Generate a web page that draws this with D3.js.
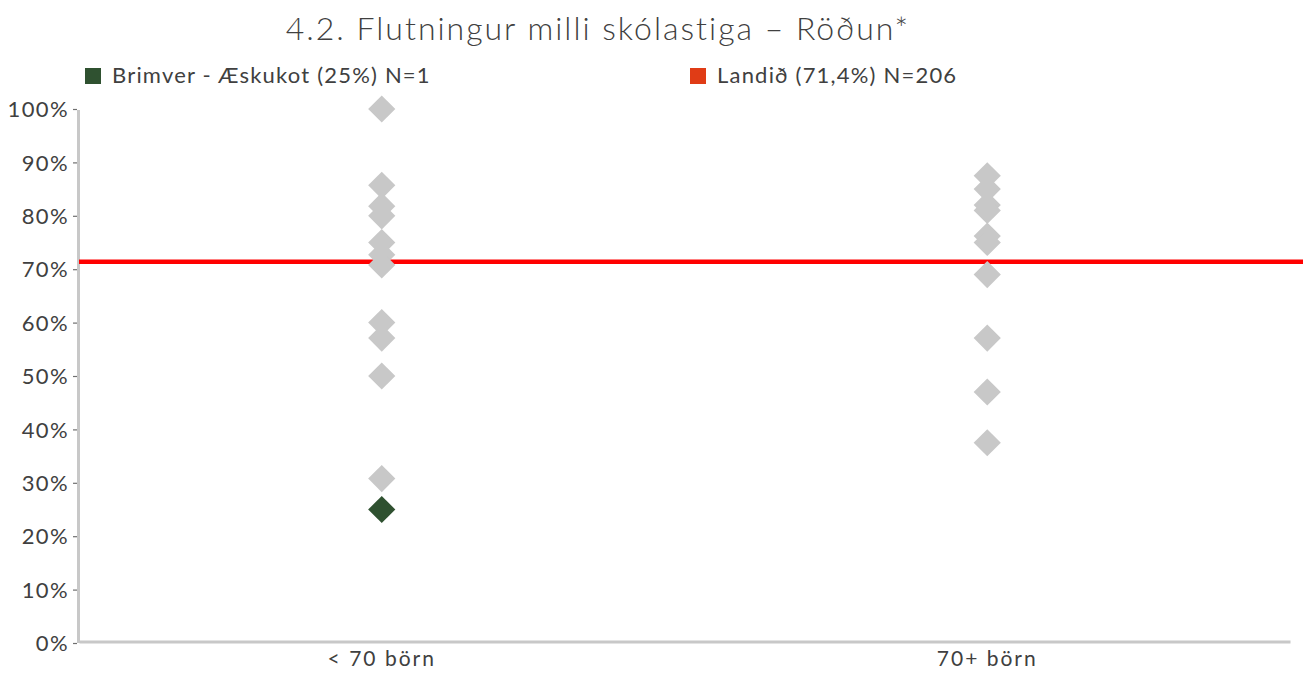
<!DOCTYPE html>
<html>
<head>
<meta charset="utf-8">
<script src="https://cdn.jsdelivr.net/npm/d3@7/dist/d3.min.js"></script>
<style>
  html, body { margin: 0; padding: 0; background: #fff; }
  svg { display: block; font-family: Lato, "Open Sans", sans-serif; }
</style>
</head>
<body>
<svg id="chart" width="1303" height="673"></svg>
<script>
// Group categories (x axis)
const categories = ["< 70 börn", "70+ börn"];

// Other schools, share in percent, per group
const otherSmall = [100, 85.7, 81.8, 80, 75, 72.7, 70.8, 60, 57.1, 50, 30.8];
const otherLarge = [87.5, 85, 82, 81, 76.2, 75, 69, 57.1, 47, 37.5];

// Highlighted school
const highlightName = "Brimver - Æskukot (25%) N=1";
const highlightCategory = "< 70 börn";
const highlightValue = 25;

// National average
const nationalName = "Landið (71,4%) N=206";
const nationalValue = 71.4;

// Y axis ticks
const yTicks = [0, 10, 20, 30, 40, 50, 60, 70, 80, 90, 100];

const title = "4.2. Flutningur milli skólastiga – Röðun*";

(function draw() {
  const svg = d3.select("#chart");
  const W = 1303;
  const mLeft = 79, mRight = 1290, mTop = 109, mBottom = 643;

  const x = d3.scaleBand().domain(categories).range([mLeft, mRight]);
  const y = d3.scaleLinear().domain([0, 100]).range([mBottom, mTop]);

  const textColor = "#404040";
  const axisColor = "#c8c8c8";

  // Title
  svg.append("text")
    .attr("x", 598).attr("y", 40)
    .attr("text-anchor", "middle")
    .attr("font-size", 32)
    .attr("font-weight", 300)
    .attr("letter-spacing", 2)
    .attr("fill", textColor)
    .text(title);

  // Legend
  const legend = [
    { name: highlightName, color: "#2f5130", x: 85 },
    { name: nationalName, color: "#e03c16", x: 690 }
  ];
  const lg = svg.append("g").selectAll("g").data(legend).join("g")
    .attr("transform", d => `translate(${d.x},68)`);
  lg.append("rect").attr("width", 16).attr("height", 16).attr("fill", d => d.color);
  lg.append("text").attr("x", 27).attr("y", 15)
    .attr("font-size", 22).attr("font-weight", 400)
    .attr("letter-spacing", 1.2)
    .attr("fill", textColor).text(d => d.name);

  // Y axis
  const yAxis = d3.axisLeft(y).tickValues(yTicks)
    .tickFormat(d => d + "%").tickSize(4).tickPadding(4);
  const yg = svg.append("g").attr("transform", `translate(${mLeft - 2},0)`).call(yAxis);
  yg.select(".domain").remove();
  yg.selectAll(".tick line").attr("stroke", "#6f6f6f").attr("stroke-width", 1.2);
  yg.selectAll(".tick text").attr("fill", textColor).attr("font-size", 22)
    .attr("font-family", "Lato, sans-serif").attr("font-weight", 400)
    .attr("letter-spacing", 1.4).attr("dy", "0.35em");

  svg.append("line")
    .attr("x1", mLeft - 0.5).attr("x2", mLeft - 0.5)
    .attr("y1", y(100) + 1).attr("y2", y(0))
    .attr("stroke", axisColor).attr("stroke-width", 3);

  // X axis
  const xAxis = d3.axisBottom(x).tickSize(0).tickPadding(10);
  const xg = svg.append("g").attr("transform", `translate(0,${y(0) - 1.5})`).call(xAxis);
  xg.select(".domain").attr("stroke", axisColor).attr("stroke-width", 3);
  xg.selectAll(".tick text").attr("fill", textColor).attr("font-size", 21)
    .attr("font-family", "Lato, sans-serif").attr("font-weight", 400)
    .attr("letter-spacing", 2);

  // National average line
  svg.append("line")
    .attr("x1", mLeft).attr("x2", W)
    .attr("y1", y(nationalValue)).attr("y2", y(nationalValue))
    .attr("stroke", "#ff0000").attr("stroke-width", 4.5);

  // Diamonds
  const diamond = d3.symbol().type(d3.symbolSquare).size(370);
  const points = [
    ...otherSmall.map(v => ({ c: categories[0], v, hl: false })),
    ...otherLarge.map(v => ({ c: categories[1], v, hl: false })),
    { c: highlightCategory, v: highlightValue, hl: true }
  ];
  svg.append("g").selectAll("path").data(points).join("path")
    .attr("d", diamond)
    .attr("transform", d => `translate(${x(d.c) + x.bandwidth() / 2},${y(d.v)}) rotate(45)`)
    .attr("fill", d => d.hl ? "#2f5130" : "#c8c8c8");
})();
</script>
</body>
</html>
